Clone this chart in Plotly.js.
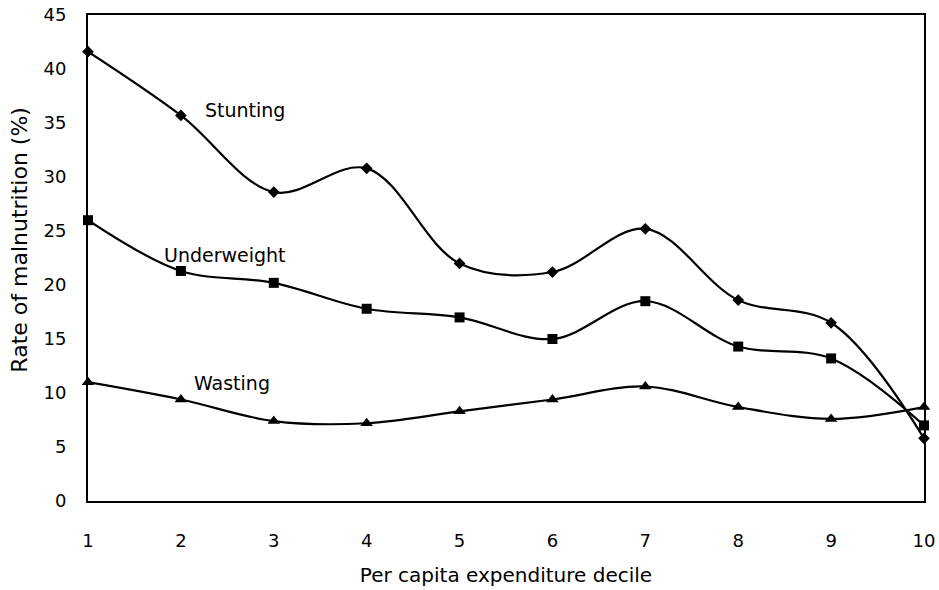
<!DOCTYPE html>
<html>
<head>
<meta charset="utf-8">
<script src="https://cdn.plot.ly/plotly-3.0.1.min.js"></script>
<style>html,body{margin:0;padding:0;background:#fff}#chart{width:939px;height:590px}</style>
</head>
<body>
<div id="chart"></div>
<script>
var deciles = [1, 2, 3, 4, 5, 6, 7, 8, 9, 10];
var stunting = [41.6, 35.7, 28.6, 30.8, 22.0, 21.2, 25.2, 18.6, 16.5, 5.8];
var underweight = [26.0, 21.3, 20.2, 17.8, 17.0, 15.0, 18.5, 14.3, 13.2, 7.0];
var wasting = [11.0, 9.4, 7.4, 7.2, 8.3, 9.4, 10.6, 8.7, 7.6, 8.7];
var yTicks = [0, 5, 10, 15, 20, 25, 30, 35, 40, 45];

var FONT = "DejaVu Sans, Verdana, sans-serif";
function series(name, y, symbol, size) {
  return {
    x: deciles, y: y, name: name, type: "scatter", mode: "lines+markers",
    line: {color: "#000", width: 2.2, shape: "spline", smoothing: 1},
    marker: {symbol: symbol, size: size, color: "#000"},
    cliponaxis: false
  };
}
var data = [
  series("Stunting", stunting, "diamond", 9),
  series("Underweight", underweight, "square", 10),
  series("Wasting", wasting, "triangle-up", 11)
];
var layout = {
  width: 939, height: 590,
  margin: {l: 88, r: 15, t: 15, b: 89},
  paper_bgcolor: "#fff", plot_bgcolor: "#fff",
  showlegend: false,
  font: {family: FONT, color: "#000", size: 18},
  xaxis: {
    range: [1, 10], tickvals: deciles, ticks: "", showgrid: false, zeroline: false,
    showline: true, linecolor: "#000", linewidth: 2, mirror: true,
    ticklabelstandoff: 22,
    title: {text: "Per capita expenditure decile", font: {size: 20}, standoff: 18}
  },
  yaxis: {
    range: [0, 45], tickvals: yTicks, ticks: "", showgrid: false, zeroline: false,
    showline: true, linecolor: "#000", linewidth: 2, mirror: true,
    ticklabelstandoff: 16
  },
  annotations: [
    {xref: "paper", yref: "paper", x: -0.083, y: 0.537, text: "Rate of malnutrition (%)",
     textangle: -90, showarrow: false, xanchor: "center", yanchor: "middle", font: {size: 22}},
    {x: 2.24, y: 36.2, text: "Stunting", showarrow: false, xanchor: "left", font: {size: 19}},
    {x: 1.80, y: 22.8, text: "Underweight", showarrow: false, xanchor: "left", font: {size: 19}},
    {x: 2.12, y: 10.9, text: "Wasting", showarrow: false, xanchor: "left", font: {size: 19}}
  ]
};
Plotly.newPlot("chart", data, layout, {displayModeBar: false, staticPlot: true});
</script>
</body>
</html>
